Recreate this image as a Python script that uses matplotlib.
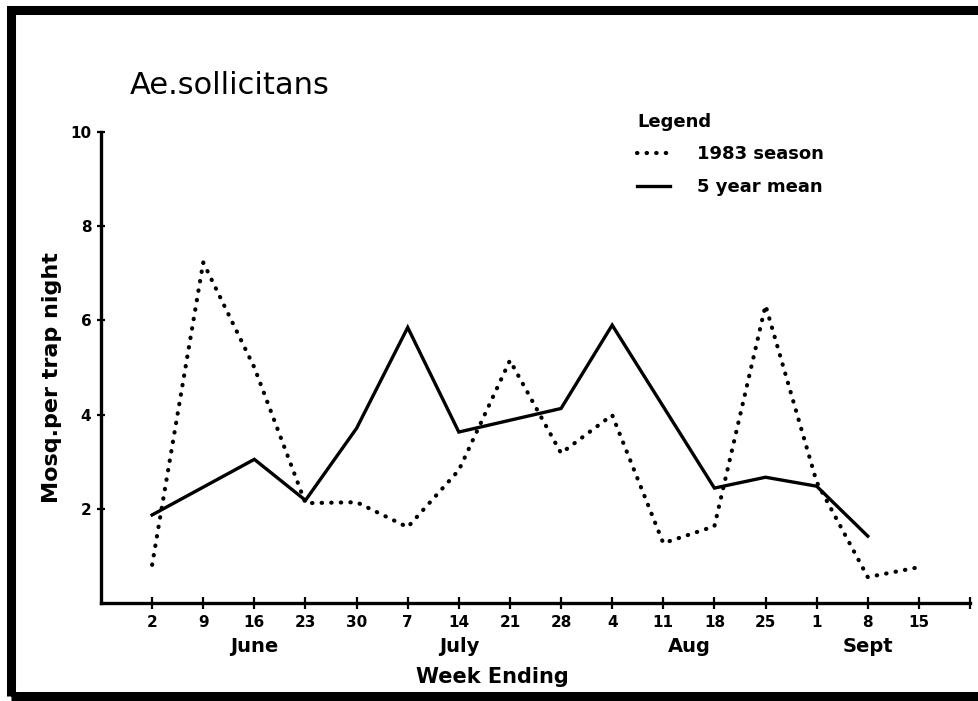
#!/usr/bin/env python3
"""Ae. sollicitans weekly trap counts: 1983 season vs 5 year mean."""

import matplotlib
matplotlib.use("Agg")
import matplotlib.pyplot as plt
from matplotlib.patches import Rectangle

plt.rcParams["font.family"] = ["DejaVu Sans"]

WEEK_LABELS = ["2", "9", "16", "23", "30", "7", "14", "21", "28",
               "4", "11", "18", "25", "1", "8", "15"]
SEASON_1983 = [0.81, 7.23, 5.0, 2.12, 2.14, 1.61, 2.82, 5.15, 3.18,
               3.99, 1.27, 1.63, 6.32, 2.57, 0.55, 0.76]
FIVE_YEAR_MEAN = [1.87, 2.46, 3.05, 2.18, 3.71, 5.85, 3.63, 3.88, 4.13,
                  5.90, 4.17, 2.44, 2.67, 2.48, 1.42]
MONTHS = ["June", "July", "Aug", "Sept"]
MONTH_CENTERS = [2, 6, 10.5, 14]
Y_TICKS = [2, 4, 6, 8, 10]


def main():
    fig = plt.figure(figsize=(9.79, 7.01), dpi=100)
    ax = fig.add_axes([101 / 979, 98 / 701, 869 / 979, 471 / 701])

    # heavy frame round the figure (open on the right, as in the scan)
    fig.patches.append(Rectangle((11 / 979, 5 / 701), 1.05, 686 / 701,
                                 transform=fig.transFigure, fill=False,
                                 edgecolor="black", linewidth=6.5))

    x_mean = list(range(len(FIVE_YEAR_MEAN)))
    x_season = list(range(len(SEASON_1983)))
    ax.plot(x_season, SEASON_1983, color="black", linewidth=3.0,
            linestyle=(0, (0.1, 2.2)), dash_capstyle="round",
            label="1983 season")
    ax.plot(x_mean, FIVE_YEAR_MEAN, color="black", linewidth=2.4,
            solid_joinstyle="miter", label="5 year mean")

    ax.set_xlim(-1, 16)
    ax.set_ylim(0, 10)
    for side in ("top", "right"):
        ax.spines[side].set_visible(False)
    for side in ("left", "bottom"):
        ax.spines[side].set_linewidth(2.4)

    ax.set_xticks(list(range(len(WEEK_LABELS))) + [16])
    ax.set_xticklabels(WEEK_LABELS + [""], fontsize=11, fontweight="bold")
    ax.tick_params(axis="x", direction="inout", length=9, width=1.6, pad=4)
    ax.set_yticks(Y_TICKS)
    ax.set_yticklabels([str(v) for v in Y_TICKS], fontsize=11,
                       fontweight="bold")
    ax.tick_params(axis="y", direction="inout", length=6, width=1.6, pad=4)

    trans = ax.get_xaxis_transform()
    for name, center in zip(MONTHS, MONTH_CENTERS):
        ax.text(center, -0.093, name, transform=trans, ha="center",
                va="center", fontsize=14, fontweight="bold")
    ax.text(6.65, -0.157, "Week Ending", transform=trans, ha="center",
            va="center", fontsize=15, fontweight="bold")

    fig.text(52 / 979, 1 - 378 / 701, "Mosq.per trap night", rotation=90,
             ha="center", va="center", fontsize=16, fontweight="bold")
    fig.text(130 / 979, 1 - 85 / 701, "Ae.sollicitans", ha="left",
             va="center", fontsize=22)

    leg = ax.legend(loc="upper left", bbox_to_anchor=(628 / 979, 1 - 104 / 701),
                    bbox_transform=fig.transFigure, frameon=False,
                    title="Legend", alignment="left", borderpad=0,
                    handlelength=1.8, handletextpad=1.5, labelspacing=0.8,
                    prop={"size": 13, "weight": "bold"})
    leg.get_title().set_fontsize(13)
    leg.get_title().set_fontweight("bold")

    fig.savefig("out.png", dpi=100)
    plt.close(fig)


if __name__ == "__main__":
    main()
